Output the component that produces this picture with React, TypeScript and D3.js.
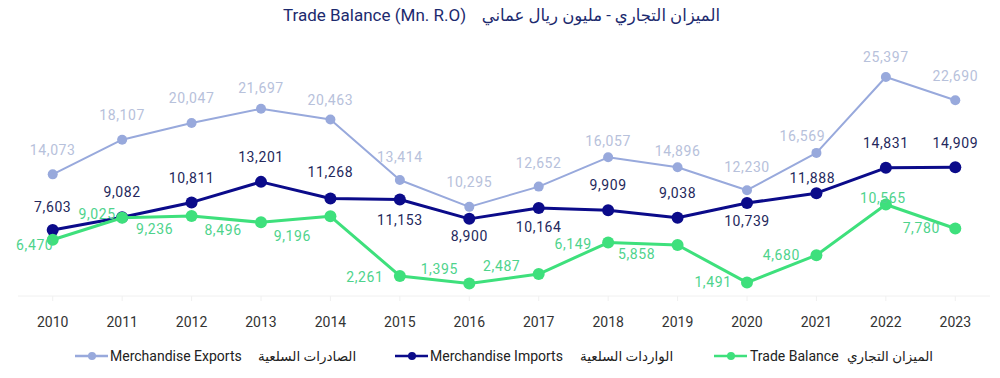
import React, { useEffect } from "react";
import * as d3 from "d3";

const years = ["2010","2011","2012","2013","2014","2015","2016","2017","2018","2019","2020","2021","2022","2023"];
const exportsVals = [14073,18107,20047,21697,20463,13414,10295,12652,16057,14896,12230,16569,25397,22690];
const importsVals = [7603,9082,10811,13201,11268,11153,8900,10164,9909,9038,10739,11888,14831,14909];
const balanceVals = [6470,9025,9236,8496,9196,2261,1395,2487,6149,5858,1491,4680,10565,7780];

// label placement offsets (dx, dy of label centre relative to point)
const exportsLabelOffsets: [number, number][] = [[0,-24],[0,-25],[0,-25],[0,-21],[0,-19],[0,-23],[0,-25],[0,-24],[0,-16],[0,-16],[0,-23],[-14,-17],[0,-20],[0,-24]];
const importsLabelOffsets: [number, number][] = [[0,-23],[0,-25],[0,-24],[0,-25],[0,-26],[0,21],[0,17],[0,19],[0,-25],[0,-25],[0,18],[-4,-15],[0,-25],[0,-24]];
const balanceLabelOffsets: [number, number][] = [[-18,5],[-25,-4],[-37,13],[-38,8],[-38,20],[-35,1],[-30,-14],[-37,-8],[-35,1],[-41,9],[-34,-1],[-35,0],[-3,-7],[-34,0]];

const W = 1000, H = 378;
const FONT = "Roboto, 'DejaVu Sans', sans-serif";

export default function App() {
  useEffect(() => {
    document.body.style.margin = "0";
  }, []);

  const x = d3.scalePoint<string>().domain(years).range([18, 990]).padding(0.5);
  const y = d3.scaleLinear().domain([0, 30000]).range([295.4, 37.4]);
  const fmt = d3.format(",");

  const series = [
    { vals: exportsVals, offs: exportsLabelOffsets, color: "#98a9dc", label: "#b7c1db", width: 2, r: 5 },
    { vals: importsVals, offs: importsLabelOffsets, color: "#0b0b8a", label: "#24285c", width: 3, r: 6 },
    { vals: balanceVals, offs: balanceLabelOffsets, color: "#3ee07c", label: "#4ed38c", width: 3, r: 6 },
  ];

  const line = d3.line<number>().x((_, i) => x(years[i])!).y((v) => y(v));

  const legend = [
    { color: "#98a9dc", en: "Merchandise Exports", ar: "الصادرات السلعية", x0: 75, enX: 110, arX: 258 },
    { color: "#0b0b8a", en: "Merchandise Imports", ar: "الواردات السلعية", x0: 395, enX: 430, arX: 580 },
    { color: "#3ee07c", en: "Trade Balance", ar: "الميزان التجاري", x0: 714, enX: 750, arX: 847 },
  ];

  return (
    <svg width={W} height={H} style={{ display: "block", background: "#ffffff" }} fontFamily={FONT}>
      {/* title */}
      <text x={283} y={21} fontSize={17} fill="#1c2a6e" fontWeight={400}>Trade Balance (Mn. R.O)</text>
      <text x={720} y={21} fontSize={16.5} fill="#1c2a6e" textAnchor="end">الميزان التجاري - مليون ريال عماني</text>

      {/* baseline */}
      <line x1={18} x2={990} y1={296} y2={296} stroke="#f0f0f0" strokeWidth={1} />
      {years.map((yr) => (
        <line key={yr} x1={x(yr)} x2={x(yr)} y1={296} y2={301} stroke="#f0f0f0" strokeWidth={1} />
      ))}

      {/* x labels */}
      {years.map((yr) => (
        <text key={yr} x={x(yr)} y={327} fontSize={14} fill="#333" textAnchor="middle">{yr}</text>
      ))}

      {series.map((s, si) => (
        <g key={si}>
          <path d={line(s.vals) || ""} fill="none" stroke={s.color} strokeWidth={s.width} strokeLinejoin="round" />
          {s.vals.map((v, i) => (
            <circle key={i} cx={x(years[i])} cy={y(v)} r={s.r} fill={s.color} />
          ))}
        </g>
      ))}

      {series.map((s, si) => (
        <g key={"l" + si}>
          {s.vals.map((v, i) => (
            <text key={i} x={x(years[i])! + s.offs[i][0]} y={y(v) + s.offs[i][1] + 5} fontSize={14} fill={s.label} textAnchor="middle" letterSpacing={0.6}>{fmt(v)}</text>
          ))}
        </g>
      ))}

      {/* legend */}
      {legend.map((l, i) => (
        <g key={i}>
          <line x1={l.x0} x2={l.x0 + 33} y1={356} y2={356} stroke={l.color} strokeWidth={2.5} />
          <circle cx={l.x0 + 17} cy={356} r={4} fill={l.color} />
          <text x={l.enX} y={361} fontSize={14} fill="#222">{l.en}</text>
          <text x={l.arX} y={361} fontSize={13.5} fill="#222" textAnchor="start">{l.ar}</text>
        </g>
      ))}
    </svg>
  );
}
